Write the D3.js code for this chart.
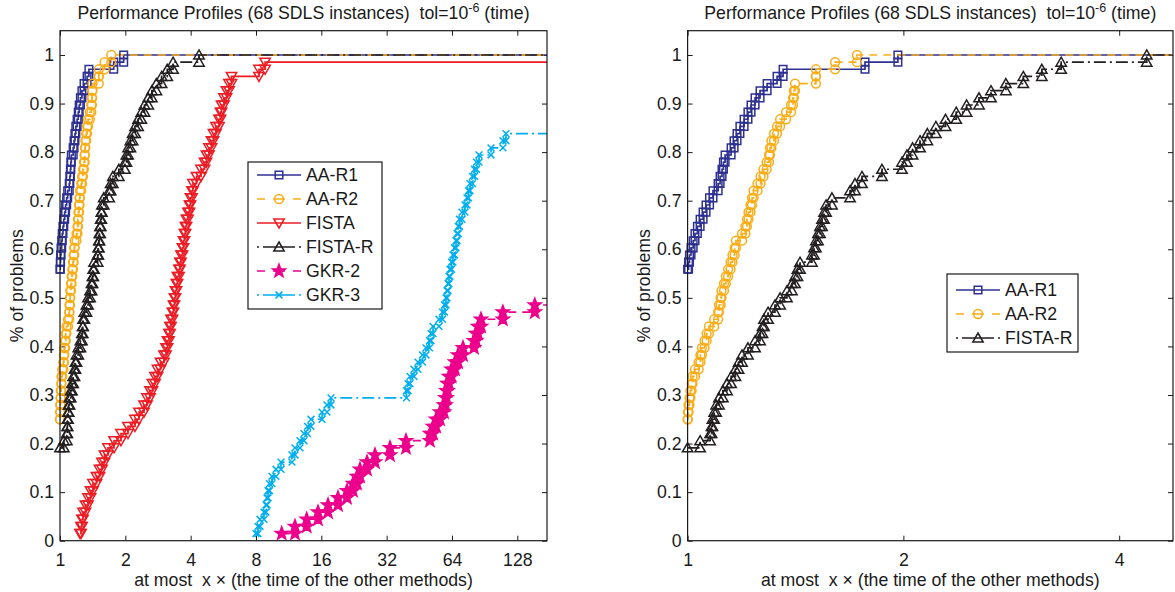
<!DOCTYPE html>
<html>
<head>
<meta charset="utf-8">
<script src="https://cdn.jsdelivr.net/npm/d3@7"></script>
<style>
  body { margin: 0; background: #fff; }
  svg { display: block; }
  text { font-family: "Liberation Sans", Arial, Helvetica, sans-serif; fill: #1a1a1a; white-space: pre; }
</style>
</head>
<body>
<svg id="chart" width="1175" height="592"></svg>
<script>
// ---- data ----
const nInstances = 68;
const methods = ["AA-R1", "AA-R2", "FISTA", "FISTA-R", "GKR-2", "GKR-3"];
// number of instances where the method is the fastest (ratio = 1)
const fastestCount = [38, 17, 0, 13, 0, 0];
// sorted performance ratios of the remaining solved instances
const ratiosAAR1 = [1.003, 1.006, 1.011, 1.018, 1.024, 1.032, 1.041, 1.051, 1.061, 1.073,
  1.085, 1.103, 1.110, 1.117, 1.122, 1.128, 1.150, 1.161, 1.172, 1.183,
  1.199, 1.214, 1.226, 1.242, 1.262, 1.291, 1.333, 1.359, 1.768, 1.965];
const ratiosAAR2 = [1.001, 1.003, 1.006, 1.009, 1.013, 1.016, 1.024, 1.036, 1.042, 1.047,
  1.056, 1.063, 1.071, 1.089, 1.103, 1.106, 1.112, 1.115, 1.124, 1.131,
  1.139, 1.148, 1.155, 1.163, 1.168, 1.191, 1.204, 1.210, 1.216, 1.224,
  1.230, 1.236, 1.252, 1.264, 1.276, 1.289, 1.299, 1.303, 1.309, 1.320,
  1.333, 1.346, 1.372, 1.394, 1.403, 1.407, 1.412, 1.510, 1.510, 1.606, 1.723];
const ratiosFISTA = [1.236, 1.250, 1.263, 1.276, 1.311, 1.346, 1.382, 1.419, 1.473, 1.521,
  1.561, 1.603, 1.664, 1.774, 1.910, 2.057, 2.216, 2.312, 2.438, 2.517,
  2.599, 2.668, 2.740, 2.814, 2.905, 3.015, 3.080, 3.129, 3.179, 3.213,
  3.247, 3.299, 3.334, 3.370, 3.406, 3.442, 3.479, 3.535, 3.572, 3.610,
  3.668, 3.707, 3.747, 3.787, 3.827, 3.889, 3.951, 3.993, 4.057, 4.100,
  4.256, 4.464, 4.633, 4.732, 4.860, 4.990, 5.097, 5.234, 5.404, 5.490,
  5.549, 5.698, 5.851, 6.008, 6.170, 8.26, 8.81];
const ratiosFISTAR = [1.041, 1.075, 1.080, 1.083, 1.089, 1.096, 1.106, 1.120, 1.135, 1.150,
  1.166, 1.178, 1.191, 1.214, 1.242, 1.262, 1.272, 1.278, 1.295, 1.324,
  1.346, 1.376, 1.398, 1.412, 1.423, 1.435, 1.491, 1.501, 1.510, 1.520,
  1.530, 1.540, 1.550, 1.560, 1.590, 1.685, 1.712, 1.751, 1.867, 1.991,
  2.023, 2.06, 2.11, 2.16, 2.22, 2.29, 2.37, 2.45, 2.55, 2.65,
  2.78, 2.94, 3.12, 3.32, 4.37];
const ratiosGKR2 = [10.51, 12.10, 13.70, 15.45, 17.18, 19.10, 21.01, 22.39, 23.36, 24.12,
  25.98, 28.28, 33.16, 39.29, 50.69, 52.33, 54.02, 56.37, 58.81, 59.75,
  60.39, 61.03, 62.02, 63.68, 66.09, 68.23, 71.95, 80.85, 82.59, 84.37,
  87.08, 109.8, 154.1];
const ratiosGKR3 = [8.00, 8.17, 8.35, 8.71, 8.90, 8.99, 9.09, 9.23, 9.48, 9.89,
  10.43, 11.72, 12.10, 12.76, 13.31, 13.82, 14.34, 16.12, 16.99, 17.73,
  39.50, 40.14, 41.00, 42.78, 44.62, 46.81, 48.58, 50.42, 51.23, 52.33,
  55.77, 57.88, 59.13, 60.08, 60.72, 61.37, 62.02, 62.68, 63.68, 64.70,
  65.74, 66.80, 67.51, 68.44, 69.32, 71.19, 73.49, 75.07, 76.27, 77.49,
  79.58, 81.29, 83.03, 85.27, 96.83, 109.9, 113.5];
const allRatios = [ratiosAAR1, ratiosAAR2, ratiosFISTA, ratiosFISTAR, ratiosGKR2, ratiosGKR3];

const xTicksLeft = [1, 2, 4, 8, 16, 32, 64, 128];
const xTicksRight = [1, 2, 4];
const yTicks = [0, 0.1, 0.2, 0.3, 0.4, 0.5, 0.6, 0.7, 0.8, 0.9, 1];
const xMaxLeft = 175.4;
const xMaxRight = 4.755;
const yMax = 1.05;

const titleMain = "Performance Profiles (68 SDLS instances)  tol=10";
const titleExp = "-6";
const titleTail = " (time)";
const xLabel = "at most  x \u00d7 (the time of the other methods)";
const yLabel = "% of problems";

// ---- styles ----
const colors = ["#2e3192", "#fbad18", "#ed1c24", "#231f20", "#ec008c", "#00aeef"];
const dashes = [null, "8,6", null, "12,4,2,4", "8,6", "12,4,2,4"];
const legendDashes = [null, "8,8,12,8,8", null, "2,4,32,4,2", "8,8,12,8,8", "2,4,32,4,2"];
const markers = ["square", "circle", "triDown", "triUp", "star", "x"];
const fontSize = 17.7;

const svg = d3.select("#chart");

function starPath(ro, ri) {
  let p = "";
  for (let i = 0; i < 10; i++) {
    const r = i % 2 === 0 ? ro : ri;
    const a = -Math.PI / 2 + i * Math.PI / 5;
    p += (i === 0 ? "M" : "L") + (r * Math.cos(a)).toFixed(2) + "," + (r * Math.sin(a)).toFixed(2);
  }
  return p + "Z";
}

function markerPath(type) {
  switch (type) {
    case "square": return "M-3.8,-3.8h7.6v7.6h-7.6Z";
    case "circle": return "M4.4,0A4.4,4.4 0 1,1 -4.4,0A4.4,4.4 0 1,1 4.4,0Z";
    case "triUp": return "M0,-5L5.2,4L-5.2,4Z";
    case "triDown": return "M0,5L5.2,-4L-5.2,-4Z";
    case "star": return starPath(6.8, 2.8);
    case "x": return "M-3.4,-3.4L3.4,3.4M-3.4,3.4L3.4,-3.4";
  }
}

// stair corner points of one performance profile
function profilePoints(idx) {
  const pts = [];
  let k = fastestCount[idx];
  if (k > 0) pts.push([1, k / nInstances]);
  allRatios[idx].forEach(r => {
    if (pts.length > 0) pts.push([r, k / nInstances]);
    k += 1;
    pts.push([r, k / nInstances]);
  });
  return pts;
}

function addMarker(g, idx, cx, cy) {
  const t = markers[idx];
  g.append("path")
    .attr("d", markerPath(t))
    .attr("transform", `translate(${cx},${cy})`)
    .attr("fill", t === "star" ? colors[idx] : "none")
    .attr("stroke", colors[idx])
    .attr("stroke-width", 1.5);
}

function drawPanel(p) {
  const x = d3.scaleLog().base(2).domain([1, p.xMax]).range([p.left, p.right]);
  const y = d3.scaleLinear().domain([0, yMax]).range([p.bottom, p.top]);
  const g = svg.append("g");
  const clipId = "clip-" + p.id;

  g.append("clipPath").attr("id", clipId)
    .append("rect")
    .attr("x", p.left).attr("y", p.top)
    .attr("width", p.right - p.left).attr("height", p.bottom - p.top);

  // axes
  const yFmt = d3.format(".1~f");
  g.append("g").attr("transform", `translate(0,${p.bottom})`)
    .call(d3.axisBottom(x).tickValues(p.xTicks).tickFormat(d3.format("d"))
      .tickSizeInner(-5).tickSizeOuter(0).tickPadding(13));
  g.append("g").attr("transform", `translate(0,${p.top})`)
    .call(d3.axisTop(x).tickValues(p.xTicks).tickFormat("")
      .tickSizeInner(-5).tickSizeOuter(0));
  g.append("g").attr("transform", `translate(${p.left},0)`)
    .call(d3.axisLeft(y).tickValues(yTicks).tickFormat(yFmt)
      .tickSizeInner(-5).tickSizeOuter(0).tickPadding(6));
  g.append("g").attr("transform", `translate(${p.right},0)`)
    .call(d3.axisRight(y).tickValues(yTicks).tickFormat("")
      .tickSizeInner(-5).tickSizeOuter(0));
  g.selectAll(".domain").remove();
  g.selectAll(".tick line").attr("stroke", "#1a1a1a");
  g.selectAll(".tick text").attr("font-size", fontSize).attr("fill", "#1a1a1a")
    .style("font-family", '"Liberation Sans", Arial, sans-serif');

  // curves
  const line = d3.line().x(d => x(d[0])).y(d => y(d[1]));
  const curves = g.append("g").attr("clip-path", `url(#${clipId})`);
  p.series.forEach(idx => {
    const pts = profilePoints(idx);
    const last = pts[pts.length - 1];
    curves.append("path")
      .attr("d", line(pts.concat([[p.xMax * 1.05, last[1]]])))
      .attr("fill", "none")
      .attr("stroke", colors[idx])
      .attr("stroke-width", 1.7)
      .attr("stroke-dasharray", dashes[idx]);
  });
  p.series.forEach(idx => {
    const mg = g.append("g");
    profilePoints(idx).filter(d => d[0] <= p.xMax)
      .forEach(d => addMarker(mg, idx, x(d[0]), y(d[1])));
  });

  // box
  g.append("rect")
    .attr("x", p.left).attr("y", p.top)
    .attr("width", p.right - p.left).attr("height", p.bottom - p.top)
    .attr("fill", "none").attr("stroke", "#1a1a1a").attr("stroke-width", 1.2);

  // title
  const cx = (p.left + p.right) / 2;
  const t = g.append("text").attr("x", cx).attr("y", 19)
    .attr("text-anchor", "middle").attr("font-size", fontSize);
  t.append("tspan").text(titleMain);
  t.append("tspan").attr("dy", -7).attr("font-size", 12.5).text(titleExp);
  t.append("tspan").attr("dy", 7).text(titleTail);

  // axis labels
  g.append("text").attr("x", cx).attr("y", 586)
    .attr("text-anchor", "middle").attr("font-size", fontSize).text(xLabel);
  g.append("text")
    .attr("transform", `translate(${p.yLabelX},${(p.top + p.bottom) / 2}) rotate(-90)`)
    .attr("text-anchor", "middle").attr("font-size", fontSize).text(yLabel);

  // legend
  const L = p.legend;
  const lg = g.append("g");
  lg.append("rect").attr("x", L.x).attr("y", L.y).attr("width", L.w).attr("height", L.h)
    .attr("fill", "#fff").attr("stroke", "#1a1a1a").attr("stroke-width", 1.2);
  p.series.forEach((idx, i) => {
    const ry = L.y + L.first + i * L.step;
    lg.append("line")
      .attr("x1", L.x + 9).attr("x2", L.x + 53).attr("y1", ry).attr("y2", ry)
      .attr("stroke", colors[idx]).attr("stroke-width", 1.7)
      .attr("stroke-dasharray", legendDashes[idx]);
    addMarker(lg, idx, L.x + 31, ry);
    lg.append("text").attr("x", L.x + 58).attr("y", ry).attr("dy", "0.36em")
      .attr("font-size", fontSize).text(methods[idx]);
  });
}

drawPanel({
  id: "left", left: 60, right: 547, top: 30.7, bottom: 540.7,
  xMax: xMaxLeft, xTicks: xTicksLeft, series: [0, 1, 2, 3, 4, 5], yLabelX: 23,
  legend: { x: 248, y: 162, w: 134, h: 147, first: 13, step: 24 }
});
drawPanel({
  id: "right", left: 687.6, right: 1173, top: 30.7, bottom: 540.7,
  xMax: xMaxRight, xTicks: xTicksRight, series: [0, 1, 3], yLabelX: 650,
  legend: { x: 947, y: 274, w: 131, h: 78, first: 16, step: 24 }
});
</script>
</body>
</html>
